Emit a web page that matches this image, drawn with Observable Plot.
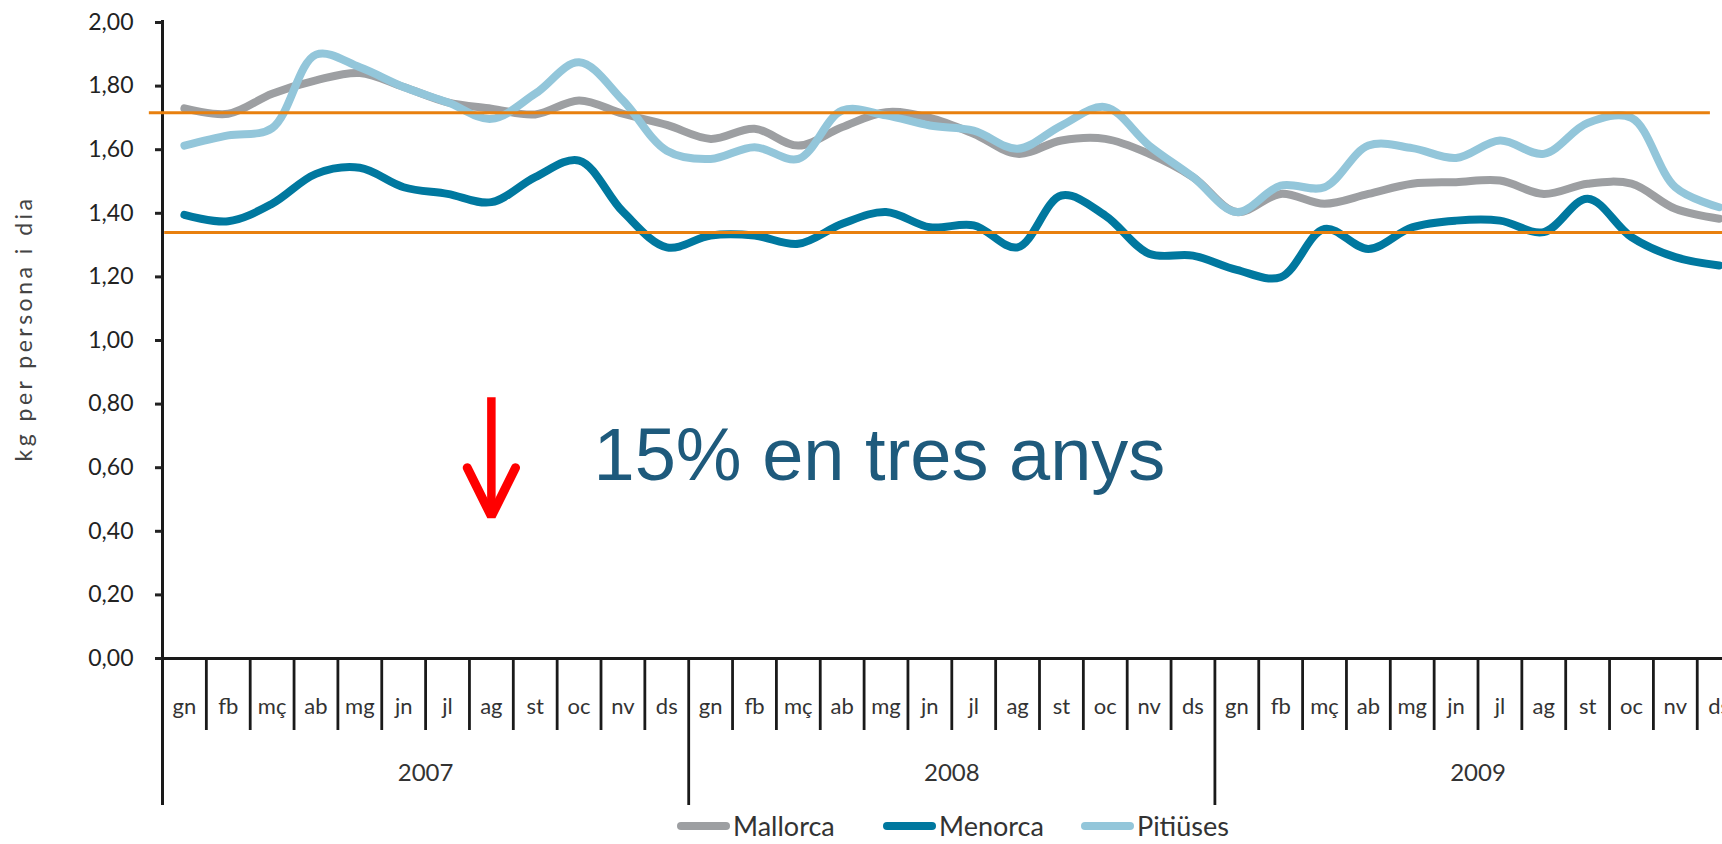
<!DOCTYPE html>
<html><head><meta charset="utf-8">
<script src="https://cdn.jsdelivr.net/npm/d3@7"></script>
<script src="https://cdn.jsdelivr.net/npm/@observablehq/plot@0.6"></script>
<style>
html,body{margin:0;padding:0;background:#fff;overflow:hidden;}
#wrap{position:relative;width:1722px;height:844px;overflow:hidden;}
#legend{position:absolute;left:0;top:812px;height:32px;width:1722px;display:flex;padding-left:677px;box-sizing:border-box;font-family:Lato,sans-serif;font-size:27px;color:#333;}
.item{display:flex;align-items:flex-start;}
.sw{width:53px;height:8px;border-radius:4px;margin-top:10px;flex:none;}
.lab{line-height:26px;margin-top:1px;margin-left:3px;white-space:nowrap;}
</style></head><body><div id="wrap"><div id="chart"></div><div id="legend"></div></div>
<script>
const months = ["gn","fb","mç","ab","mg","jn","jl","ag","st","oc","nv","ds"];
const years = ["2007","2008","2009"];
const mallorca = [
  1.73, 1.713, 1.776, 1.818, 1.841, 1.797, 1.749, 1.729, 1.711, 1.755, 1.713, 1.678,
  1.634, 1.666, 1.613, 1.671, 1.718, 1.700, 1.650, 1.587, 1.629, 1.634, 1.587, 1.514,
  1.404, 1.461, 1.430, 1.461, 1.493, 1.498, 1.503, 1.461, 1.493, 1.493, 1.414, 1.383];
const menorca = [
  1.395, 1.375, 1.430, 1.524, 1.543, 1.482, 1.461, 1.435, 1.514, 1.566, 1.405, 1.293,
  1.330, 1.330, 1.304, 1.367, 1.404, 1.356, 1.362, 1.293, 1.456, 1.393, 1.273, 1.267,
  1.222, 1.199, 1.351, 1.288, 1.356, 1.377, 1.377, 1.341, 1.446, 1.325, 1.262, 1.236];
const pitiuses = [
  1.613, 1.645, 1.668, 1.899, 1.859, 1.797, 1.749, 1.697, 1.776, 1.875, 1.755, 1.597,
  1.571, 1.608, 1.571, 1.723, 1.708, 1.676, 1.660, 1.603, 1.676, 1.734, 1.613, 1.514,
  1.404, 1.487, 1.482, 1.613, 1.605, 1.574, 1.629, 1.587, 1.684, 1.700, 1.482, 1.419];
const seriesNames = ["Mallorca", "Menorca", "Pitiüses"];
const seriesColors = ["#9d9fa2", "#00789f", "#93c6da"];
const yTicks = [0, 0.2, 0.4, 0.6, 0.8, 1.0, 1.2, 1.4, 1.6, 1.8, 2.0];
const refLines = [{level: 1.716, from: -0.3, to: 35.3}, {level: 1.34, from: 0.05, to: 36}];
const yLabel = "kg per persona i dia";
const note = [{text: "15% en tres anys", t: 9.83, v: 0.56}];
const arrowShaft = [{t: 7.5, from: 0.82, to: 0.46}];
const arrowHead = [{t: 6.95, v: 0.60}, {t: 7.5, v: 0.447}, {t: 8.05, v: 0.60}];

const seriesValues = [mallorca, menorca, pitiuses];
const rows = seriesValues.flatMap((arr, s) => arr.map((v, i) => ({series: seriesNames[s], t: i + 0.5, v})));
const monthRows = d3.range(36).map(i => ({t: i + 0.5, label: months[i % 12]}));
const monthDividers = d3.range(1, 36).filter(i => i % 12 !== 0);
const yearDividers = [12, 24];
const yearRows = years.map((y, k) => ({t: k * 12 + 6, label: y}));

const axisColor = "#1a1a1a";
const chart = Plot.plot({
  width: 1722, height: 812,
  marginLeft: 162, marginRight: 0, marginTop: 22, marginBottom: 154,
  x: {domain: [0, 36], range: [162, 162 + 36 * 43.85], axis: null},
  y: {domain: [0, 2], axis: null},
  color: {domain: seriesNames, range: seriesColors},
  style: {fontFamily: "Lato, sans-serif", fontSize: "22px", color: "#333", background: "white"},
  marks: [
    Plot.ruleX(monthDividers, {x: d => d, y1: 0, y2: 0, insetBottom: -72, stroke: axisColor, strokeWidth: 2.8}),
    Plot.ruleX(yearDividers, {x: d => d, y1: 0, y2: 0, insetBottom: -147, stroke: axisColor, strokeWidth: 2.8}),
    Plot.ruleX([0], {x: d => d, y1: 2, y2: 0, insetTop: -2, insetBottom: -147, stroke: axisColor, strokeWidth: 3}),
    Plot.ruleY([0], {stroke: axisColor, strokeWidth: 3}),
    Plot.axisY(yTicks, {anchor: "left", tickSize: 7, tickPadding: 22, tickFormat: d => d.toFixed(2).replace(".", ","), fontSize: 23, color: "#222", strokeWidth: 3, label: null}),
    Plot.line(rows, {x: "t", y: "v", z: "series", stroke: "series", strokeWidth: 8, curve: "catmull-rom", strokeLinecap: "round", strokeLinejoin: "round"}),
    Plot.ruleY(refLines, {y: "level", x1: "from", x2: "to", stroke: "#e8800e", strokeWidth: 3}),
    Plot.text(monthRows, {x: "t", y: 0, text: "label", dy: 48, fontSize: 22, fill: "#333"}),
    Plot.text(yearRows, {x: "t", y: 0, text: "label", dy: 115, fontSize: 24, fill: "#333"}),
    Plot.ruleX(arrowShaft, {x: "t", y1: "from", y2: "to", stroke: "#ff0000", strokeWidth: 8.5}),
    Plot.line(arrowHead, {x: "t", y: "v", stroke: "#ff0000", strokeWidth: 9, strokeLinecap: "round", strokeLinejoin: "miter"}),
    Plot.text(note, {x: "t", y: "v", text: "text", textAnchor: "start", lineAnchor: "bottom", fontSize: 74, fontFamily: "'Liberation Sans', Arial, sans-serif", fill: "#1e5a7c"}),
    Plot.text([yLabel], {frameAnchor: "left", text: d => d, textAnchor: "middle", rotate: -90, dx: -138, dy: -12, fontSize: 23, fill: "#444"})
  ]
});
d3.select(chart).selectAll("text").filter(function() { return this.textContent === yLabel; }).attr("letter-spacing", "3.5px");
document.getElementById("chart").appendChild(chart);

const legend = document.getElementById("legend");
const itemWidths = [206, 198, 200];
seriesNames.forEach((name, i) => {
  const item = document.createElement("div");
  item.className = "item";
  item.style.width = itemWidths[i] + "px";
  const sw = document.createElement("div");
  sw.className = "sw";
  sw.style.background = seriesColors[i];
  const lab = document.createElement("div");
  lab.className = "lab";
  lab.textContent = name;
  item.appendChild(sw); item.appendChild(lab);
  legend.appendChild(item);
});
</script></body></html>
